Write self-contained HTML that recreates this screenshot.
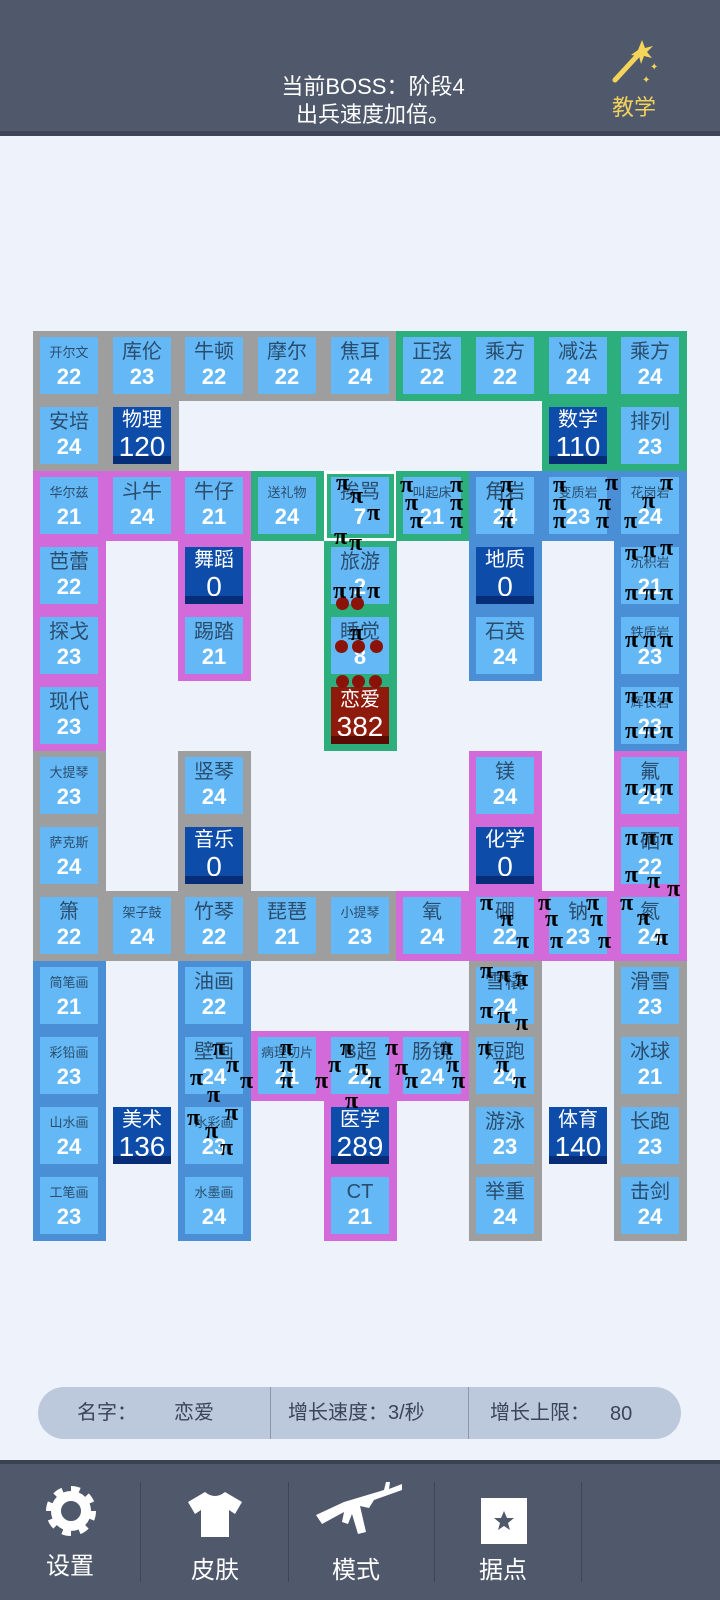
<!DOCTYPE html>
<html><head><meta charset="utf-8"><style>
*{margin:0;padding:0;box-sizing:border-box}
body{width:720px;height:1600px;background:#eef2fb;position:relative;overflow:hidden;font-family:"Liberation Sans","Noto Sans CJK SC",sans-serif}
.hd{position:absolute;left:0;top:0;width:720px;height:131px;background:#4f596b}
.hd2{position:absolute;left:0;top:131px;width:720px;height:5px;background:#3d4556}
.t{position:absolute;color:#fff;font-size:22px;text-align:center;width:300px;left:223px;line-height:28px}
.s{position:absolute;width:73px;height:70px}
.g{background:#9e9e9e}.gr{background:#2caf7c}.m{background:#d26bd9}.b{background:#4a8fd6}
.c{position:absolute;left:7px;top:6px;width:58px;height:57px;background:#64b8f5;text-align:center}
.c b{display:block;font-weight:normal;color:#2a4d6e;font-size:20px;line-height:24px;margin-top:3px;white-space:nowrap}
.c b.sm{font-size:13px;margin-top:5px;line-height:22px}
.c i{display:block;font-style:normal;font-weight:bold;color:#fff;font-size:22px;line-height:26px}
.d{background:#0d4ca8}.d b,.r b{color:#fff;font-weight:normal;margin-top:1px}
.d i,.r i{font-size:28px;line-height:30px;font-weight:normal}
.d:after,.r:after{content:"";position:absolute;left:0;bottom:0;width:58px;height:8px;background:#062d78}
.r{background:#8e1a0c}.r:after{background:#5c0a04}
.p{position:absolute;font:bold 24px "Liberation Serif",serif;color:#000}
.dot{position:absolute;width:13px;height:13px;border-radius:50%;background:#8a1208}
.pill{position:absolute;left:38px;top:1387px;width:643px;height:52px;border-radius:26px;background:#bcc8dc;color:#3a4657;font-size:20px}
.pill span{position:absolute;top:12px;line-height:28px;height:28px}
.nav{position:absolute;left:0;top:1460px;width:720px;height:140px;background:#4f596b;border-top:4px solid #3a4252}
.sep{position:absolute;top:18px;width:1px;height:100px;background:#3e4657}
.lab{position:absolute;top:88px;color:#fff;font-size:24px;width:80px;text-align:center;line-height:30px}
</style></head><body>
<div class="hd"></div><div class="hd2"></div>
<div class="t" style="top:73px">当前BOSS：阶段4</div>
<div class="t" style="top:101px">出兵速度加倍。</div>
<svg style="position:absolute;left:610px;top:38px" width="50" height="50" viewBox="0 0 50 50"><line x1="5" y1="42" x2="28" y2="17" stroke="#f5d45a" stroke-width="5" stroke-linecap="round"/><polygon points="32,2 35,10 43,8 37,14 42,20 34,18 31,26 29,18 21,17 28,12" fill="#f5d45a"/><text x="40" y="32" fill="#f5d45a" font-size="10">✦</text><text x="32" y="45" fill="#f5d45a" font-size="10">✦</text></svg>
<div style="position:absolute;left:612px;top:90px;color:#f2d25c;font-size:22px">教学</div>

<!-- row1 -->
<div class="s g" style="left:33px;top:331px"><div class="c"><b class="sm">开尔文</b><i>22</i></div></div>
<div class="s g" style="left:106px;top:331px"><div class="c"><b>库伦</b><i>23</i></div></div>
<div class="s g" style="left:178px;top:331px"><div class="c"><b>牛顿</b><i>22</i></div></div>
<div class="s g" style="left:251px;top:331px"><div class="c"><b>摩尔</b><i>22</i></div></div>
<div class="s g" style="left:324px;top:331px"><div class="c"><b>焦耳</b><i>24</i></div></div>
<div class="s gr" style="left:396px;top:331px"><div class="c"><b>正弦</b><i>22</i></div></div>
<div class="s gr" style="left:469px;top:331px"><div class="c"><b>乘方</b><i>22</i></div></div>
<div class="s gr" style="left:542px;top:331px"><div class="c"><b>减法</b><i>24</i></div></div>
<div class="s gr" style="left:614px;top:331px"><div class="c"><b>乘方</b><i>24</i></div></div>
<!-- row2 -->
<div class="s g" style="left:33px;top:401px"><div class="c"><b>安培</b><i>24</i></div></div>
<div class="s g" style="left:106px;top:401px"><div class="c d"><b>物理</b><i>120</i></div></div>
<div class="s gr" style="left:542px;top:401px"><div class="c d"><b>数学</b><i>110</i></div></div>
<div class="s gr" style="left:614px;top:401px"><div class="c"><b>排列</b><i>23</i></div></div>
<!-- row3 -->
<div class="s m" style="left:33px;top:471px"><div class="c"><b class="sm">华尔兹</b><i>21</i></div></div>
<div class="s m" style="left:106px;top:471px"><div class="c"><b>斗牛</b><i>24</i></div></div>
<div class="s m" style="left:178px;top:471px"><div class="c"><b>牛仔</b><i>21</i></div></div>
<div class="s gr" style="left:251px;top:471px"><div class="c"><b class="sm">送礼物</b><i>24</i></div></div>
<div class="s gr" style="left:324px;top:471px;border:3px solid #fff"><div class="c" style="left:4px;top:3px"><b>挨骂</b><i>7</i></div></div>
<div class="s gr" style="left:396px;top:471px"><div class="c"><b class="sm">叫起床</b><i>21</i></div></div>
<div class="s b" style="left:469px;top:471px"><div class="c"><b>角岩</b><i>24</i></div></div>
<div class="s b" style="left:542px;top:471px"><div class="c"><b class="sm">变质岩</b><i>23</i></div></div>
<div class="s b" style="left:614px;top:471px"><div class="c"><b class="sm">花岗岩</b><i>24</i></div></div>
<!-- row4 -->
<div class="s m" style="left:33px;top:541px"><div class="c"><b>芭蕾</b><i>22</i></div></div>
<div class="s m" style="left:178px;top:541px"><div class="c d"><b>舞蹈</b><i>0</i></div></div>
<div class="s gr" style="left:324px;top:541px"><div class="c"><b>旅游</b><i>2</i></div></div>
<div class="s b" style="left:469px;top:541px"><div class="c d"><b>地质</b><i>0</i></div></div>
<div class="s b" style="left:614px;top:541px"><div class="c"><b class="sm">沉积岩</b><i>21</i></div></div>
<!-- row5 -->
<div class="s m" style="left:33px;top:611px"><div class="c"><b>探戈</b><i>23</i></div></div>
<div class="s m" style="left:178px;top:611px"><div class="c"><b>踢踏</b><i>21</i></div></div>
<div class="s gr" style="left:324px;top:611px"><div class="c"><b>睡觉</b><i>8</i></div></div>
<div class="s b" style="left:469px;top:611px"><div class="c"><b>石英</b><i>24</i></div></div>
<div class="s b" style="left:614px;top:611px"><div class="c"><b class="sm">铁质岩</b><i>23</i></div></div>
<!-- row6 -->
<div class="s m" style="left:33px;top:681px"><div class="c"><b>现代</b><i>23</i></div></div>
<div class="s gr" style="left:324px;top:681px"><div class="c r"><b>恋爱</b><i>382</i></div></div>
<div class="s b" style="left:614px;top:681px"><div class="c"><b class="sm">辉长岩</b><i>23</i></div></div>
<!-- row7 -->
<div class="s g" style="left:33px;top:751px"><div class="c"><b class="sm">大提琴</b><i>23</i></div></div>
<div class="s g" style="left:178px;top:751px"><div class="c"><b>竖琴</b><i>24</i></div></div>
<div class="s m" style="left:469px;top:751px"><div class="c"><b>镁</b><i>24</i></div></div>
<div class="s m" style="left:614px;top:751px"><div class="c"><b>氟</b><i>24</i></div></div>
<!-- row8 -->
<div class="s g" style="left:33px;top:821px"><div class="c"><b class="sm">萨克斯</b><i>24</i></div></div>
<div class="s g" style="left:178px;top:821px"><div class="c d"><b>音乐</b><i>0</i></div></div>
<div class="s m" style="left:469px;top:821px"><div class="c d"><b>化学</b><i>0</i></div></div>
<div class="s m" style="left:614px;top:821px"><div class="c"><b>硒</b><i>22</i></div></div>
<!-- row9 -->
<div class="s g" style="left:33px;top:891px"><div class="c"><b>箫</b><i>22</i></div></div>
<div class="s g" style="left:106px;top:891px"><div class="c"><b class="sm">架子鼓</b><i>24</i></div></div>
<div class="s g" style="left:178px;top:891px"><div class="c"><b>竹琴</b><i>22</i></div></div>
<div class="s g" style="left:251px;top:891px"><div class="c"><b>琵琶</b><i>21</i></div></div>
<div class="s g" style="left:324px;top:891px"><div class="c"><b class="sm">小提琴</b><i>23</i></div></div>
<div class="s m" style="left:396px;top:891px"><div class="c"><b>氧</b><i>24</i></div></div>
<div class="s m" style="left:469px;top:891px"><div class="c"><b>硼</b><i>22</i></div></div>
<div class="s m" style="left:542px;top:891px"><div class="c"><b>钠</b><i>23</i></div></div>
<div class="s m" style="left:614px;top:891px"><div class="c"><b>氮</b><i>24</i></div></div>
<!-- row10 -->
<div class="s b" style="left:33px;top:961px"><div class="c"><b class="sm">简笔画</b><i>21</i></div></div>
<div class="s b" style="left:178px;top:961px"><div class="c"><b>油画</b><i>22</i></div></div>
<div class="s g" style="left:469px;top:961px"><div class="c"><b>雪橇</b><i>24</i></div></div>
<div class="s g" style="left:614px;top:961px"><div class="c"><b>滑雪</b><i>23</i></div></div>
<!-- row11 -->
<div class="s b" style="left:33px;top:1031px"><div class="c"><b class="sm">彩铅画</b><i>23</i></div></div>
<div class="s b" style="left:178px;top:1031px"><div class="c"><b>壁画</b><i>24</i></div></div>
<div class="s m" style="left:251px;top:1031px"><div class="c"><b class="sm">病理切片</b><i>21</i></div></div>
<div class="s m" style="left:324px;top:1031px"><div class="c"><b>B超</b><i>22</i></div></div>
<div class="s m" style="left:396px;top:1031px"><div class="c"><b>肠镜</b><i>24</i></div></div>
<div class="s g" style="left:469px;top:1031px"><div class="c"><b>短跑</b><i>24</i></div></div>
<div class="s g" style="left:614px;top:1031px"><div class="c"><b>冰球</b><i>21</i></div></div>
<!-- row12 -->
<div class="s b" style="left:33px;top:1101px"><div class="c"><b class="sm">山水画</b><i>24</i></div></div>
<div class="s" style="left:106px;top:1101px"><div class="c d"><b>美术</b><i>136</i></div></div>
<div class="s b" style="left:178px;top:1101px"><div class="c"><b class="sm">水彩画</b><i>23</i></div></div>
<div class="s m" style="left:324px;top:1101px"><div class="c d"><b>医学</b><i>289</i></div></div>
<div class="s g" style="left:469px;top:1101px"><div class="c"><b>游泳</b><i>23</i></div></div>
<div class="s g" style="left:542px;top:1101px;background:none"><div class="c d"><b>体育</b><i>140</i></div></div>
<div class="s g" style="left:614px;top:1101px"><div class="c"><b>长跑</b><i>23</i></div></div>
<!-- row13 -->
<div class="s b" style="left:33px;top:1171px"><div class="c"><b class="sm">工笔画</b><i>23</i></div></div>
<div class="s b" style="left:178px;top:1171px"><div class="c"><b class="sm">水墨画</b><i>24</i></div></div>
<div class="s m" style="left:324px;top:1171px"><div class="c"><b>CT</b><i>21</i></div></div>
<div class="s g" style="left:469px;top:1171px"><div class="c"><b>举重</b><i>24</i></div></div>
<div class="s g" style="left:614px;top:1171px"><div class="c"><b>击剑</b><i>24</i></div></div>

<!-- dots -->
<div class="dot" style="left:336px;top:597px"></div><div class="dot" style="left:351px;top:597px"></div>
<div class="dot" style="left:335px;top:640px"></div><div class="dot" style="left:352px;top:640px"></div><div class="dot" style="left:370px;top:640px"></div>
<div class="dot" style="left:336px;top:675px"></div><div class="dot" style="left:352px;top:675px"></div><div class="dot" style="left:369px;top:675px"></div>

<!-- pi -->
<span class="p" style="left:336px;top:470px">π</span><span class="p" style="left:350px;top:483px">π</span><span class="p" style="left:367px;top:500px">π</span>
<span class="p" style="left:334px;top:524px">π</span><span class="p" style="left:349px;top:530px">π</span>
<span class="p" style="left:333px;top:578px">π</span><span class="p" style="left:349px;top:578px">π</span><span class="p" style="left:367px;top:578px">π</span>
<span class="p" style="left:350px;top:620px">π</span>
<span class="p" style="left:400px;top:472px">π</span><span class="p" style="left:405px;top:490px">π</span><span class="p" style="left:410px;top:508px">π</span>
<span class="p" style="left:450px;top:472px">π</span><span class="p" style="left:450px;top:490px">π</span><span class="p" style="left:450px;top:508px">π</span>
<span class="p" style="left:500px;top:472px">π</span><span class="p" style="left:500px;top:490px">π</span><span class="p" style="left:500px;top:508px">π</span>
<span class="p" style="left:553px;top:472px">π</span><span class="p" style="left:553px;top:490px">π</span><span class="p" style="left:553px;top:508px">π</span>
<span class="p" style="left:605px;top:470px">π</span><span class="p" style="left:598px;top:490px">π</span><span class="p" style="left:596px;top:508px">π</span>
<span class="p" style="left:660px;top:470px">π</span><span class="p" style="left:642px;top:488px">π</span><span class="p" style="left:624px;top:508px">π</span>
<span class="p" style="left:625px;top:540px">π</span><span class="p" style="left:643px;top:537px">π</span><span class="p" style="left:660px;top:535px">π</span>
<span class="p" style="left:625px;top:580px">π</span><span class="p" style="left:643px;top:580px">π</span><span class="p" style="left:660px;top:580px">π</span>
<span class="p" style="left:625px;top:627px">π</span><span class="p" style="left:643px;top:627px">π</span><span class="p" style="left:660px;top:627px">π</span>
<span class="p" style="left:625px;top:683px">π</span><span class="p" style="left:643px;top:683px">π</span><span class="p" style="left:660px;top:683px">π</span>
<span class="p" style="left:625px;top:718px">π</span><span class="p" style="left:643px;top:718px">π</span><span class="p" style="left:660px;top:718px">π</span>
<span class="p" style="left:625px;top:775px">π</span><span class="p" style="left:643px;top:775px">π</span><span class="p" style="left:660px;top:775px">π</span>
<span class="p" style="left:625px;top:825px">π</span><span class="p" style="left:643px;top:825px">π</span><span class="p" style="left:660px;top:825px">π</span>
<span class="p" style="left:625px;top:862px">π</span><span class="p" style="left:647px;top:868px">π</span><span class="p" style="left:667px;top:876px">π</span>
<span class="p" style="left:620px;top:890px">π</span><span class="p" style="left:637px;top:905px">π</span><span class="p" style="left:655px;top:925px">π</span>
<span class="p" style="left:480px;top:890px">π</span><span class="p" style="left:500px;top:906px">π</span><span class="p" style="left:516px;top:928px">π</span>
<span class="p" style="left:538px;top:890px">π</span><span class="p" style="left:545px;top:906px">π</span><span class="p" style="left:550px;top:928px">π</span>
<span class="p" style="left:586px;top:890px">π</span><span class="p" style="left:590px;top:906px">π</span><span class="p" style="left:598px;top:928px">π</span>
<span class="p" style="left:480px;top:958px">π</span><span class="p" style="left:497px;top:962px">π</span><span class="p" style="left:515px;top:966px">π</span>
<span class="p" style="left:480px;top:998px">π</span><span class="p" style="left:497px;top:1003px">π</span><span class="p" style="left:515px;top:1010px">π</span>
<span class="p" style="left:478px;top:1035px">π</span><span class="p" style="left:496px;top:1052px">π</span><span class="p" style="left:513px;top:1068px">π</span>
<span class="p" style="left:212px;top:1035px">π</span><span class="p" style="left:226px;top:1052px">π</span><span class="p" style="left:240px;top:1068px">π</span>
<span class="p" style="left:190px;top:1065px">π</span><span class="p" style="left:207px;top:1082px">π</span><span class="p" style="left:187px;top:1105px">π</span>
<span class="p" style="left:225px;top:1100px">π</span><span class="p" style="left:205px;top:1118px">π</span><span class="p" style="left:220px;top:1135px">π</span>
<span class="p" style="left:280px;top:1035px">π</span><span class="p" style="left:280px;top:1052px">π</span><span class="p" style="left:280px;top:1068px">π</span>
<span class="p" style="left:315px;top:1068px">π</span><span class="p" style="left:328px;top:1052px">π</span><span class="p" style="left:340px;top:1035px">π</span>
<span class="p" style="left:355px;top:1055px">π</span><span class="p" style="left:368px;top:1068px">π</span><span class="p" style="left:345px;top:1088px">π</span>
<span class="p" style="left:385px;top:1035px">π</span><span class="p" style="left:395px;top:1055px">π</span><span class="p" style="left:405px;top:1068px">π</span>
<span class="p" style="left:440px;top:1035px">π</span><span class="p" style="left:446px;top:1052px">π</span><span class="p" style="left:452px;top:1068px">π</span>

<div class="pill"><span style="left:39px">名字：</span><span style="left:136px">恋爱</span><span style="left:250px">增长速度：3/秒</span><span style="left:452px">增长上限：</span><span style="left:572px;top:13px">80</span>
<div style="position:absolute;left:232px;top:0;width:1px;height:52px;background:#8a96aa"></div><div style="position:absolute;left:430px;top:0;width:1px;height:52px;background:#8a96aa"></div></div>

<div class="nav">
<div class="sep" style="left:140px"></div><div class="sep" style="left:288px"></div><div class="sep" style="left:434px"></div><div class="sep" style="left:581px"></div>
<svg style="position:absolute;left:44px;top:20px" width="54" height="54" viewBox="0 0 54 54"><circle cx="27" cy="27" r="19" fill="none" stroke="#fff" stroke-width="12" stroke-dasharray="7.5 7.4"/><circle cx="27" cy="27" r="15" fill="none" stroke="#fff" stroke-width="10"/></svg>
<svg style="position:absolute;left:187px;top:26px" width="56" height="48" viewBox="0 0 56 48"><path d="M18 2 Q28 10 38 2 L55 12 L48 24 L42 20 L42 47 L14 47 L14 20 L8 24 L1 12 Z" fill="#fff"/></svg>
<svg style="position:absolute;left:314px;top:16px" width="90" height="58" viewBox="0 0 90 58"><path d="M2 35 L30 22 L70 10 L72 2 L76 2 L75 9 L88 4 L88 10 L60 20 L55 28 L46 26 L52 52 L44 54 L38 34 L34 44 L28 42 L30 32 L8 44 Z" fill="#fff"/></svg>
<svg style="position:absolute;left:481px;top:34px" width="46" height="46" viewBox="0 0 46 46"><rect x="0" y="0" width="46" height="46" fill="#fff"/><polygon points="23,13 26,20 33,20 27,25 29,32 23,28 17,32 19,25 13,20 20,20" fill="#4f596b"/></svg>
<div class="lab" style="left:30px">设置</div><div class="lab" style="left:175px;top:92px">皮肤</div><div class="lab" style="left:316px;top:92px">模式</div><div class="lab" style="left:463px;top:92px">据点</div>
</div>
</body></html>
